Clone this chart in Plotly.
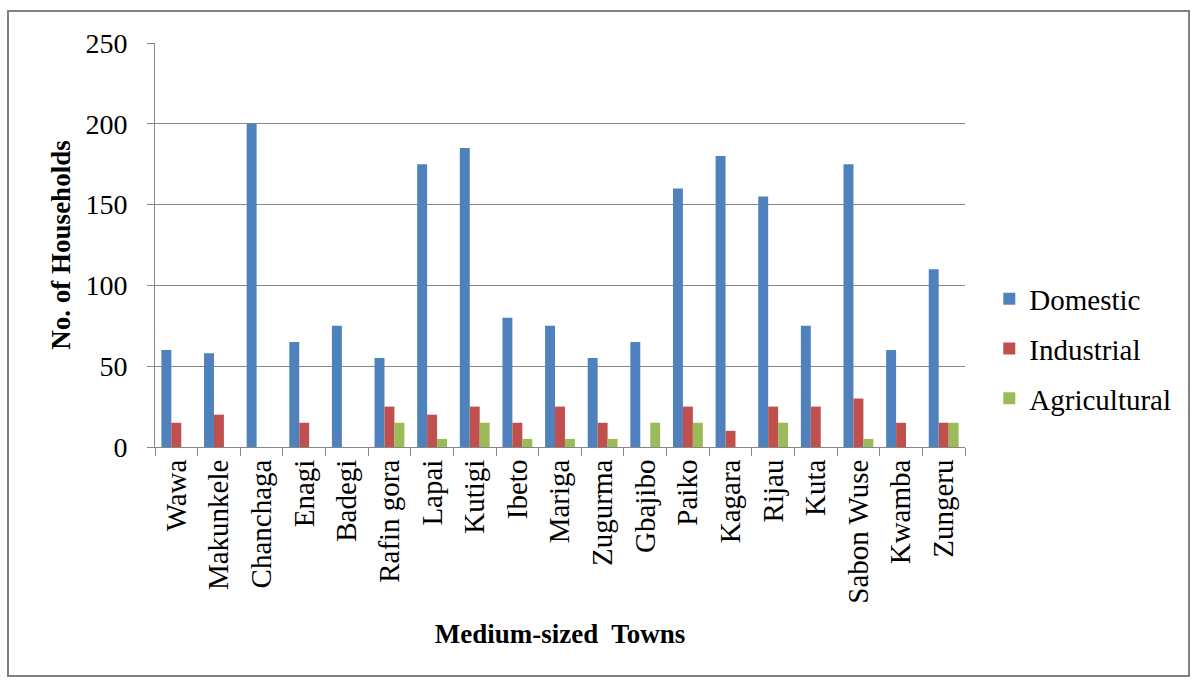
import plotly.graph_objects as go

towns = ["Wawa", "Makunkele", "Chanchaga", "Enagi", "Badegi", "Rafin gora", "Lapai",
         "Kutigi", "Ibeto", "Mariga", "Zugurma", "Gbajibo", "Paiko", "Kagara", "Rijau",
         "Kuta", "Sabon Wuse", "Kwamba", "Zungeru"]
domestic = [60, 58, 200, 65, 75, 55, 175, 185, 80, 75, 55, 65, 160, 180, 155, 75, 175, 60, 110]
industrial = [15, 20, 0, 15, 0, 25, 20, 25, 15, 25, 15, 0, 25, 10, 25, 25, 30, 15, 15]
agricultural = [0, 0, 0, 0, 0, 15, 5, 15, 5, 5, 5, 15, 15, 0, 15, 0, 5, 0, 15]
y_ticks = [0, 50, 100, 150, 200, 250]

FONT = "Times New Roman, Liberation Serif, serif"
series = [("Domestic", domestic, "#4F81BD"),
          ("Industrial", industrial, "#C0504D"),
          ("Agricultural", agricultural, "#9BBB59")]

fig = go.Figure()
for name, vals, color in series:
    fig.add_trace(go.Bar(x=towns, y=vals, name=name, marker_color=color,
                         marker_line_width=0, legendgroup=name))

fig.update_layout(
    width=1196, height=681,
    margin=dict(l=155, r=231, t=43, b=234),
    paper_bgcolor="white", plot_bgcolor="white",
    barmode="group", bargap=0.3, bargroupgap=0,
    font=dict(family=FONT, color="black"),
    legend=dict(x=1.03, y=(447 - 349) / 404, xanchor="left", yanchor="middle",
                font=dict(size=29, family=FONT, color="black"), tracegroupgap=9,
                traceorder="grouped"),
    showlegend=True,
)
fig.update_xaxes(
    tickangle=-90, tickfont=dict(size=29, family=FONT),
    showline=True, linecolor="#868686", linewidth=1,
    ticks="outside", tickson="boundaries", ticklen=8, tickcolor="#868686",
    title=dict(text="<b>Medium-sized  Towns</b>", font=dict(size=27, family=FONT), standoff=21),
)
fig.update_yaxes(
    range=[0, 250], tickvals=y_ticks, tickfont=dict(size=28, family=FONT),
    showline=True, linecolor="#868686", linewidth=1,
    showgrid=True, gridcolor="#868686", gridwidth=1,
    ticks="outside", ticklen=7, tickcolor="#868686", ticklabelstandoff=14,
    zeroline=False,
    title=dict(text="<b>No. of Households</b>", font=dict(size=27, family=FONT), standoff=6),
)

# outer chart frame
fig.add_shape(type="rect", xref="paper", yref="paper",
              x0=(8 - 155) / 810, x1=(1189 - 155) / 810,
              y0=(447 - 676) / 404, y1=(447 - 11) / 404,
              line=dict(color="#808080", width=2), fillcolor="rgba(0,0,0,0)")

fig.write_html("out.html")
